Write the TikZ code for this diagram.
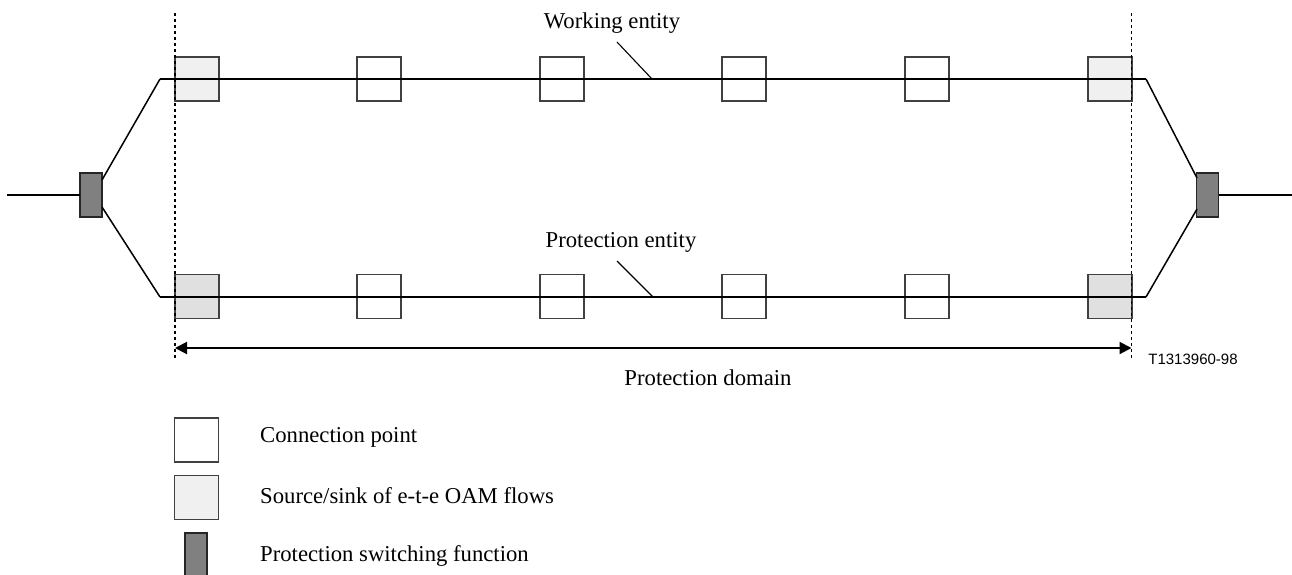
\documentclass[tikz,border=0pt]{standalone}
\usepackage{fontspec}
\setmainfont{Liberation Serif}
\newfontfamily\labelsans{Liberation Sans}
\usetikzlibrary{arrows.meta}
\begin{document}
\begin{tikzpicture}[x=1pt,y=-1pt,
  cpbox/.style={draw=black!75, line width=1.5pt, fill=white, minimum width=44pt, minimum height=44pt, inner sep=0pt, outer sep=0pt},
  ssbox/.style={cpbox, fill=black!6},
  ssboxb/.style={cpbox, fill=black!12},
  psfbox/.style={draw=black!85, line width=1.5pt, fill=black!50, minimum width=22pt, minimum height=44pt, inner sep=0pt, outer sep=0pt},
  mainline/.style={line width=2.6pt},
  branchline/.style={line width=1.5pt},
  leader/.style={line width=1.1pt},
  domline/.style={dash pattern=on 3pt off 3pt},
  lbl/.style={font=\fontsize{22.7}{27}\selectfont, inner sep=0pt},
  codelbl/.style={font=\labelsans\fontsize{15}{18}\selectfont, inner sep=0pt}]
\useasboundingbox (0,0) rectangle (1292,574);

% top row boxes
\node[ssbox] (t1) at (197,79) {};
\node[cpbox] (t2) at (562,79) {};
\node[cpbox] (t3) at (379,79) {};
\node[cpbox] (t4) at (744,79) {};
\node[cpbox] (t5) at (927,79) {};
\node[ssbox] (t6) at (1110,79) {};
% bottom row boxes
\node[ssboxb] (b1) at (197,296.5) {};
\node[cpbox] (b2) at (379,296.5) {};
\node[cpbox] (b3) at (562,296.5) {};
\node[cpbox] (b4) at (744,296.5) {};
\node[cpbox] (b5) at (927,296.5) {};
\node[ssboxb] (b6) at (1110,296.5) {};

% protection switching functions
\node[psfbox] (psfL) at (91,195) {};
\node[psfbox] (psfR) at (1207.5,195) {};

% coordinates
\coordinate (inL) at (7,195);
\coordinate (outR) at (1292,195);
\coordinate (lu) at (102,180);
\coordinate (ld) at (102,207);
\coordinate (ru) at (1197,178);
\coordinate (rd) at (1197,209);
\coordinate (tlk) at (160,79);
\coordinate (trk) at (1146,79);
\coordinate (blk) at (160,297);
\coordinate (brk) at (1146,297);

% lines
\draw[mainline] (inL) -- (psfL.west);
\draw[mainline] (psfR.east) -- (outR);
\draw[branchline] (lu) -- (tlk);
\draw[branchline] (ld) -- (blk);
\draw[branchline] (trk) -- (ru);
\draw[branchline] (brk) -- (rd);
\draw[mainline] (tlk) -- (trk);
\draw[mainline] (blk) -- (brk);

% labels
\node[lbl] (we) at (612,23) {Working entity};
\coordinate (weS) at (617,42);
\coordinate (weE) at (652,79);
\draw[leader] (weS) -- (weE);
\node[lbl] (pe) at (621,242) {Protection entity};
\coordinate (peS) at (617,261);
\coordinate (peE) at (653,297);
\draw[leader] (peS) -- (peE);

% domain
\coordinate (dL1) at (175,13);
\coordinate (dL2) at (175,360);
\coordinate (dR1) at (1131.5,13);
\coordinate (dR2) at (1131.5,360);
\draw[domline, line width=1.6pt] (dL1) -- (dL2);
\draw[domline, line width=1pt] (dR1) -- (dR2);
\coordinate (aL) at (175,348);
\coordinate (aR) at (1131.5,348);
\draw[line width=2pt, {Triangle[length=12pt,width=12pt]}-{Triangle[length=12pt,width=12pt]}] (aL) -- (aR);
\node[lbl] (pd) at (708,378) {Protection domain};
\node[codelbl] (code) at (1193,359) {T1313960-98};

% legend
\node[cpbox] (lg1) at (196.5,440) {};
\node[ssbox] (lg2) at (196.5,497.5) {};
\node[psfbox] (lg3) at (196,555) {};
\node[lbl, anchor=west] (lt1) at (260,437) {Connection point};
\node[lbl, anchor=west] (lt2) at (260,496) {Source/sink of e-t-e OAM flows};
\node[lbl, anchor=west] (lt3) at (260,556) {Protection switching function};
\end{tikzpicture}
\end{document}
